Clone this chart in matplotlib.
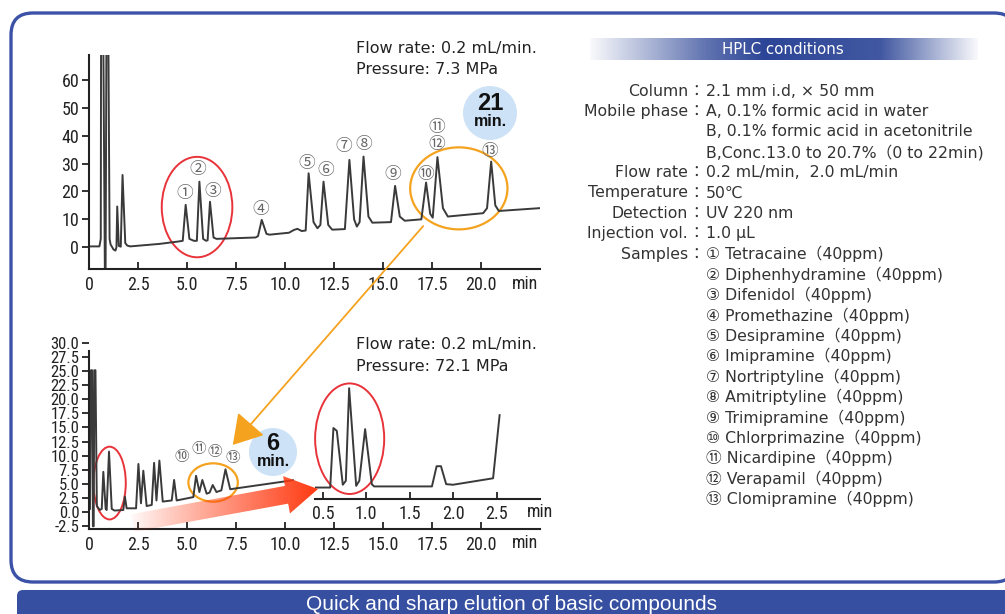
import numpy as np
import matplotlib
matplotlib.use('Agg')
import matplotlib.pyplot as plt
from matplotlib import font_manager
from matplotlib.patches import Ellipse, Circle, FancyBboxPatch, FancyArrow, FancyArrowPatch

W, H = 1005, 614

# upper chromatogram, 0.2 mL/min, 7.3 MPa (time in min, signal)
upper_t = [0.0, 0.53, 0.60, 0.62, 0.71, 0.82, 0.84, 0.90, 0.97, 1.05, 1.10, 1.25, 1.35, 1.40,
           1.44, 1.52, 1.62, 1.71, 1.85, 1.95, 2.10, 3.60, 4.50, 4.78, 4.93, 5.12, 5.35, 5.50,
           5.63, 5.82, 5.97, 6.05, 6.17, 6.35, 6.50, 8.50, 8.62, 8.81, 9.05, 9.20, 10.20,
           10.45, 10.63, 10.85, 11.05, 11.20, 11.45, 11.65, 11.80, 11.96, 12.20, 12.40, 13.05,
           13.28, 13.52, 13.66, 13.80, 14.00, 14.25, 14.45, 15.40, 15.61, 15.85, 16.10, 16.95,
           17.19, 17.40, 17.53, 17.77, 18.05, 18.30, 20.10, 20.30, 20.51, 20.72, 20.90, 22.97]
upper_mv = [0.3, 0.3, 3.0, 95.0, 95.0, -20.0, -20.0, 95.0, 95.0, 3.0, 1.0, -0.8, -1.2, 0.0,
            14.6, 0.5, 0.2, 25.9, 1.5, 0.6, 0.3, 1.2, 2.0, 2.3, 15.2, 3.0, 2.3, 2.3,
            23.5, 3.0, 2.3, 2.5, 16.3, 3.5, 3.0, 3.5, 4.0, 9.8, 4.8, 4.5, 5.2,
            6.2, 6.6, 5.8, 6.0, 26.5, 9.0, 6.8, 8.0, 23.5, 8.0, 6.3, 6.5,
            31.3, 10.0, 7.4, 9.0, 32.5, 11.0, 8.8, 9.0, 22.0, 11.0, 9.5, 10.0,
            23.2, 12.0, 10.6, 32.3, 14.0, 11.0, 12.2, 14.0, 30.7, 15.0, 13.0, 14.0]
upper_ticks = [0, 10, 20, 30, 40, 50, 60]
upper_peak_names = ['①', '②', '③', '④', '⑤', '⑥', '⑦', '⑧', '⑨', '⑩', '⑪', '⑫', '⑬']
upper_peak_t = [4.86, 5.53, 6.31, 8.78, 11.1, 12.09, 13.01, 14.0, 15.49, 17.19, 17.74, 17.74, 20.42]
upper_peak_mv = [19.1, 28.0, 19.9, 13.6, 30.1, 27.5, 36.1, 36.9, 26.2, 26.2, 43.0, 36.7, 34.3]

# lower chromatogram, 72.1 MPa
lower_t = [0.05, 0.10, 0.16, 0.20, 0.24, 0.27, 0.33, 0.40, 0.55, 0.65, 0.73, 0.85, 0.90, 1.02,
           1.16, 1.30, 1.75, 1.83, 1.92, 2.40, 2.52, 2.65, 2.77, 2.94, 3.20, 3.32, 3.44, 3.59,
           3.76, 4.22, 4.34, 4.47, 5.32, 5.46, 5.63, 5.78, 6.00, 6.15, 6.31, 6.50, 6.75, 6.96,
           7.20, 10.40]
lower_mv = [0.5, 25.2, 25.2, -2.6, -2.6, 25.2, 25.2, 1.0, 0.3, 0.5, 7.1, 0.5, 0.3, 10.7,
            0.5, 0.2, 0.3, 2.7, 0.6, 0.6, 8.5, 1.5, 7.3, 1.0, 1.2, 8.7, 2.0, 9.1,
            1.8, 2.0, 5.65, 2.0, 2.6, 6.4, 3.5, 5.65, 3.2, 3.4, 4.75, 3.5, 3.8, 7.55,
            4.0, 5.6]
lower_ticks = [-2.5, 0.0, 2.5, 5.0, 7.5, 10.0, 12.5, 15.0, 17.5, 20.0, 22.5, 25.0, 27.5, 30.0]
lower_peak_names = ['⑩', '⑪', '⑫', '⑬']
lower_peak_t = [4.73, 5.58, 6.43, 7.33]
lower_peak_mv = [9.8, 11.2, 10.7, 9.5]

# expanded view of the 2.0 mL/min run (0.4 - 3.0 min)
inset_t = [0.41, 0.585, 0.622, 0.661, 0.73, 0.765, 0.803, 0.884, 0.92, 0.987, 1.064, 1.09,
           1.756, 1.81, 1.86, 1.92, 2.0, 2.46, 2.535]
inset_mv = [4.3, 4.3, 14.9, 14.4, 4.8, 5.5, 22.0, 4.6, 5.5, 14.7, 4.9, 4.5,
            4.5, 8.1, 8.1, 4.9, 4.8, 5.95, 17.2]
inset_ticks = [0.5, 1.0, 1.5, 2.0, 2.5]

time_ticks = [0, 2.5, 5.0, 7.5, 10.0, 12.5, 15.0, 17.5, 20.0]
time_ticklabels = ['0', '2.5', '5.0', '7.5', '10.0', '12.5', '15.0', '17.5', '20.0']

cond_names = ['Column', 'Mobile phase', '', '', 'Flow rate', 'Temperature', 'Detection',
              'Injection vol.', 'Samples']
cond_values = ['2.1 mm i.d, × 50 mm', 'A, 0.1% formic acid in water',
               'B, 0.1% formic acid in acetonitrile', 'B,Conc.13.0 to 20.7%（0 to 22min)',
               '0.2 mL/min,  2.0 mL/min', '50℃', 'UV 220 nm', '1.0 μL']
samples = ['Tetracaine', 'Diphenhydramine', 'Difenidol', 'Promethazine', 'Desipramine',
           'Imipramine', 'Nortriptyline', 'Amitriptyline', 'Trimipramine', 'Chlorprimazine',
           'Nicardipine', 'Verapamil', 'Clomipramine']

# narrow font for the axis numbers if one is around
installed = {f.name for f in font_manager.fontManager.ttflist}
narrow = [n for n in ['Liberation Sans Narrow', 'Roboto Condensed', 'DejaVu Sans Condensed']
          if n in installed]
if narrow:
    TICKFONT = dict(family=narrow + ['DejaVu Sans'], fontsize=13)
    LOWER_Y_SIZE = 12
else:
    TICKFONT = dict(family=['DejaVu Sans Mono'], fontsize=11.5)
    LOWER_Y_SIZE = 11
SANS = ['Liberation Sans', 'DejaVu Sans']
DV = ['DejaVu Sans', 'Noto Sans CJK JP']
JP = ['Noto Sans CJK JP', 'DejaVu Sans']
TRACE = '#3a3a3a'
ORANGE = '#f5a21f'
RED = '#e8333a'
BLUE = '#364fa1'
LIGHTBLUE = '#cde2f6'
PANEL = 11.3

fig = plt.figure(figsize=(W / 100, H / 100), dpi=100)


def px_axes(l, t, r, b):
    return [l / W, 1 - b / H, (r - l) / W, (b - t) / H]


# background frame + banner
bg = fig.add_axes([0, 0, 1, 1], zorder=0)
bg.axis('off')
bg.add_patch(FancyBboxPatch((11, 13), 1005, 569, boxstyle='round,pad=0,rounding_size=22',
                            fc='white', ec='#3b52a6', lw=2.4, zorder=1))
bg.add_patch(FancyBboxPatch((17, 590), 1000, 40, boxstyle='round,pad=0,rounding_size=6',
                            fc=BLUE, ec='none', zorder=1))
bg.text(512, 604, 'Quick and sharp elution of basic compounds', color='white',
        ha='center', va='center', fontsize=15, family=SANS)

# HPLC conditions header with gradient
grad = np.ones((1, 400, 4))
grad[..., :3] = [0.17, 0.27, 0.59]
pos = np.linspace(0, 1, 400)
grad[0, :, 3] = np.interp(pos, [0, 0.3, 0.45, 0.75, 1], [0.03, 0.75, 1, 0.9, 0.03])
bg.imshow(grad, extent=(590, 978, 60, 38), aspect='auto', interpolation='bilinear', zorder=2)
bg.text(783, 49, 'HPLC conditions', color='white', ha='center', va='center',
        fontsize=10.8, family=DV, zorder=3)

row_y = [91 + 20.4 * i for i in range(21)]
labels = cond_names + [''] * 12
values = cond_values + ['%s %s（40ppm)' % (n, s) for n, s in zip(upper_peak_names, samples)]
for y, lab, val in zip(row_y, labels, values):
    if lab:
        bg.text(688, y, lab, ha='right', va='center', fontsize=PANEL, color='#333', family=DV,
                zorder=3)
        bg.text(696, y, '：', ha='center', va='center', fontsize=PANEL, color='#333', family=JP,
                zorder=3)
    bg.text(706, y, val, ha='left', va='center', fontsize=PANEL, color='#333', family=DV,
            zorder=3)
bg.set_xlim(0, W)
bg.set_ylim(H, 0)


def style_axes(ax, yticks, ylabels, ysize):
    for s in ['top', 'right']:
        ax.spines[s].set_visible(False)
    for s in ['left', 'bottom']:
        ax.spines[s].set_color('#222')
        ax.spines[s].set_linewidth(1.5)
    ax.set_xticks(time_ticks)
    ax.set_xticklabels(time_ticklabels, **TICKFONT)
    ax.set_yticks(yticks)
    ax.set_yticklabels(ylabels, family=TICKFONT['family'], fontsize=ysize)
    ax.tick_params(axis='x', direction='in', length=5, width=1.3, pad=5, colors='#222')
    ax.tick_params(axis='y', direction='out', length=5, width=1.3, pad=2, colors='#222')
    ax.patch.set_alpha(0)


# upper chromatogram
ax1 = fig.add_axes(px_axes(89, 55, 540, 269), zorder=2)
ax1.plot(upper_t, upper_mv, color=TRACE, lw=1.4)
ax1.set_xlim(0, 23.0)
ax1.set_ylim(-7.8, 68.9)
style_axes(ax1, upper_ticks, [str(v) for v in upper_ticks], TICKFONT['fontsize'])
for n, x, y in zip(upper_peak_names, upper_peak_t, upper_peak_mv):
    ax1.text(x, y, n, ha='center', va='center', fontsize=12, color='#666', family=JP)
ax1.add_patch(Ellipse((5.51, 14.4), 3.6, 36, fill=False, ec=RED, lw=1.4, clip_on=False))
ax1.add_patch(Ellipse((18.86, 21.1), 4.96, 29.4, fill=False, ec=ORANGE, lw=1.6, clip_on=False))

# lower chromatogram
ax2 = fig.add_axes(px_axes(89, 343.3, 540, 529.3), zorder=2)
ax2.plot(lower_t, lower_mv, color=TRACE, lw=1.4)
ax2.set_xlim(0, 23.0)
ax2.set_ylim(-3.14, 30.0)
ax2.spines['left'].set_bounds(-3.14, 28.7)
style_axes(ax2, lower_ticks, ['%.1f' % v for v in lower_ticks], LOWER_Y_SIZE)
for n, x, y in zip(lower_peak_names, lower_peak_t, lower_peak_mv):
    ax2.text(x, y, n, ha='center', va='center', fontsize=10.5, color='#666', family=JP)
ax2.add_patch(Ellipse((1.05, 5.1), 1.65, 12.96, fill=False, ec=RED, lw=1.4, clip_on=False))
ax2.add_patch(Ellipse((6.33, 5.2), 2.52, 6.83, fill=False, ec=ORANGE, lw=1.6, clip_on=False))

# inset with the 2.0 mL/min run
ax3 = fig.add_axes(px_axes(315, 343.3, 540, 529.3), zorder=3)
ax3.plot(inset_t, inset_mv, color=TRACE, lw=1.4)
ax3.set_xlim(0.41, 3.0)
ax3.set_ylim(-3.14, 30.0)
for s in ['top', 'right', 'left']:
    ax3.spines[s].set_visible(False)
ax3.spines['bottom'].set_position(('data', 2.2))
ax3.spines['bottom'].set_color('#222')
ax3.spines['bottom'].set_linewidth(1.5)
ax3.set_yticks([])
ax3.set_xticks(inset_ticks)
ax3.set_xticklabels(['%.1f' % v for v in inset_ticks], **TICKFONT)
ax3.tick_params(axis='x', direction='in', length=5, width=1.3, pad=4, colors='#222')
ax3.patch.set_alpha(0)
ax3.add_patch(Ellipse((0.809, 13.0), 0.795, 19.7, fill=False, ec=RED, lw=1.4, clip_on=False))

# overlay: texts, bubbles, arrows
ov = fig.add_axes([0, 0, 1, 1], zorder=4)
ov.axis('off')
ov.patch.set_alpha(0)
for x, y in [(512, 284), (512, 543), (527, 512)]:
    ov.text(x, y, 'min', ha='left', va='center', color='#222', **TICKFONT)
for y0, p in [(48, '7.3'), (345, '72.1')]:
    ov.text(356, y0, 'Flow rate: 0.2 mL/min.', ha='left', va='center', fontsize=11.5,
            family=DV, color='#222')
    ov.text(356, y0 + 21.5, 'Pressure: %s MPa' % p, ha='left', va='center', fontsize=11.5,
            family=DV, color='#222')

for (cx, cy, r), big in [((490, 113, 27), '21'), ((273, 452, 24), '6')]:
    ov.add_patch(Circle((cx, cy), r, fc=LIGHTBLUE, ec='none'))
    ov.text(cx, cy - 9, big, ha='center', va='center', fontsize=17, fontweight='bold',
            family=SANS, color='#111')
    ov.text(cx, cy + 9, 'min.', ha='center', va='center', fontsize=11.5, fontweight='bold',
            family=SANS, color='#111')

ov.add_patch(FancyArrowPatch((425, 224), (231, 447), arrowstyle='-|>,head_length=9,head_width=5.5',
                             color=ORANGE, lw=1.3, mutation_scale=2))

arrow = FancyArrow(133, 523, 185, -34, width=18, head_width=38, head_length=32,
                   length_includes_head=True, fc='none', ec='none')
ov.add_patch(arrow)
rg = np.ones((1, 300, 4))
rg[..., :3] = [1.0, 0.22, 0.06]
rg[0, :, 3] = np.linspace(0, 1, 300) ** 0.9
im = ov.imshow(rg, extent=(128, 320, 548, 468), aspect='auto', interpolation='bilinear')
im.set_clip_path(arrow)

ov.set_xlim(0, W)
ov.set_ylim(H, 0)

fig.savefig('out.png', dpi=100, facecolor='white')
